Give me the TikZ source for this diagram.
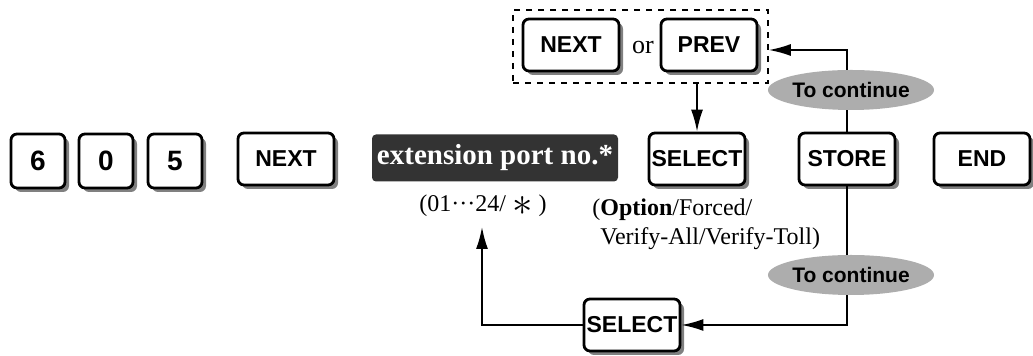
\documentclass[tikz,border=0pt]{standalone}
\usepackage{fontspec}
\setmainfont{Liberation Serif}
\setsansfont{Liberation Sans}
\usetikzlibrary{arrows.meta,shadows,shapes.geometric}

\tikzset{
    keycap/.style={draw, line width=1.4pt, rounded corners=3pt, fill=white,
        minimum width=48pt, minimum height=26pt, inner sep=1pt,
        font=\sffamily\bfseries\fontsize{11.5}{11.5}\selectfont,
        drop shadow={shadow xshift=2pt, shadow yshift=-2pt, fill=black!50, opacity=1}},
    digitkey/.style={keycap, minimum width=27pt, minimum height=27pt,
        font=\sffamily\bfseries\fontsize{14}{14}\selectfont},
    contbubble/.style={ellipse, fill=black!32, minimum width=74pt, minimum height=20pt,
        inner sep=0pt, font=\sffamily\bfseries\fontsize{10.5}{10.5}\selectfont},
    flow/.style={line width=0.9pt, -{Latex[length=11pt,width=6pt]}},
}

\begin{document}
\begin{tikzpicture}[x=0.5pt,y=-0.5pt]
    \useasboundingbox (0,0) rectangle (1033,356);

    \node[digitkey] (k6) at (38,161) {6};
    \node[digitkey] (k0) at (106,161) {0};
    \node[digitkey] (k5) at (175,161) {5};
    \node[keycap] (next) at (286,159) {NEXT};

    \node[fill=black!80, rounded corners=2pt, text=white, minimum width=123pt,
        minimum height=23.5pt, inner sep=1pt,
        font=\bfseries\fontsize{14.5}{14.5}\selectfont] (port) at (495,158) {extension port no.*};
    \node[font=\fontsize{12}{12}\selectfont] (range) at (483,206)
        {(01···24/ \raisebox{-0.35ex}{\scalebox{1.7}{$\ast$}} )};

    \node[keycap] (select) at (697,159) {SELECT};
    \node[keycap] (store) at (847,159) {STORE};
    \node[keycap] (endkey) at (982,159) {END};

    \node[keycap] (topnext) at (571,45) {NEXT};
    \node[font=\fontsize{13}{13}\selectfont] (or) at (643,48) {or};
    \node[keycap] (prev) at (709,45) {PREV};
    \node[draw, dashed, line width=0.8pt, minimum width=127.5pt, minimum height=36.5pt,
        inner sep=0pt] (choice) at (640.5,46.5) {};

    \node[align=left, font=\fontsize{12}{14.5}\selectfont, anchor=north west, inner sep=0pt]
        (optnote) at (592,198)
        {(\textbf{Option}/Forced/\\\phantom{(}Verify-All/Verify-Toll)};

    \node[keycap] (select2) at (632,325) {SELECT};
    \coordinate (backtip) at (482,227);

    % connectors
    \draw[flow] (choice.south -| select.north) -- (select.north);
    \draw[flow] (store.north) |- ([yshift=-1.75pt]choice.east);
    \draw[flow] (store.south) |- (select2.east);
    \draw[flow] (select2.west) -| (backtip);

    \node[contbubble] (cont1) at (851,90) {To continue};
    \node[contbubble] (cont2) at (851,275) {To continue};
\end{tikzpicture}
\end{document}
